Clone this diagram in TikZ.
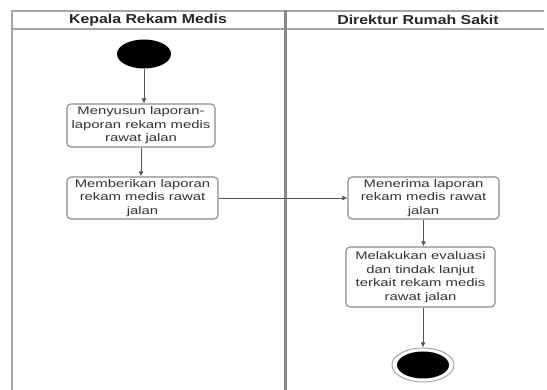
\documentclass[tikz,border=0pt]{standalone}
\usepackage{fontspec}
\setmainfont{Liberation Sans}
\newfontfamily\headfont[FakeStretch=1.22]{Liberation Sans}
\newfontfamily\actfont[FakeStretch=1.35]{Liberation Sans}
\usetikzlibrary{arrows.meta,shapes.geometric}
\definecolor{laneline}{HTML}{A4A4A4}
\definecolor{divline}{HTML}{888888}
\definecolor{boxline}{HTML}{8A8A8A}
\definecolor{flowline}{HTML}{555555}
\definecolor{txt}{HTML}{333333}
\tikzset{
  lane/.style={draw=laneline, line width=2pt},
  divider/.style={draw=divline, line width=2.4pt},
  header/.style={font=\headfont\bfseries\fontsize{13}{15}\selectfont, text=black!85},
  activity/.style={draw=boxline, line width=1.1pt, rounded corners=4pt, fill=white,
    align=center, text=txt, inner sep=0pt,
    font=\actfont\fontsize{11}{13.5}\selectfont},
  startnode/.style={ellipse, fill=black, minimum width=54pt, minimum height=29pt, inner sep=0pt},
  endinner/.style={ellipse, fill=black, minimum width=52pt, minimum height=27pt, inner sep=0pt},
  endouter/.style={ellipse, draw=laneline, line width=1pt, minimum width=62pt, minimum height=34pt, inner sep=0pt},
  flow/.style={draw=flowline, line width=0.9pt, -{Latex[length=5pt,width=5pt]}},
}
\begin{document}
\begin{tikzpicture}[x=1pt, y=-1pt]
  \useasboundingbox (0,0) rectangle (547,390);
  \fill[white] (0,0) rectangle (547,390);

  % swimlane frame
  \draw[lane] (12,11) -- (544,11);
  \draw[lane] (12,29) -- (544,29);
  \draw[lane] (12,10) -- (12,390);
  \draw[divider] (285.5,10) -- (285.5,390);

  % lane titles
  \node[header] (h1) at (148,20) {Kepala Rekam Medis};
  \node[header] (h2) at (418,20) {Direktur Rumah Sakit};

  % initial node
  \node[startnode] (start) at (144,54) {};

  % activities
  \node[activity, minimum width=148pt, minimum height=43pt] (a1) at (141,125.5)
    {Menyusun laporan-\\laporan rekam medis\\rawat jalan};
  \node[activity, minimum width=151pt, minimum height=42pt] (a2) at (142.5,198)
    {Memberikan laporan\\rekam medis rawat\\jalan};
  \node[activity, minimum width=151pt, minimum height=42pt] (a3) at (423.5,198)
    {Menerima laporan\\rekam medis rawat\\jalan};
  \node[activity, minimum width=149pt, minimum height=60pt] (a4) at (420.5,277)
    {Melakukan evaluasi\\dan tindak lanjut\\terkait rekam medis\\rawat jalan};

  % final node
  \node[endouter] (endo) at (423,365) {};
  \node[endinner] (end) at (423,365) {};

  % control flow
  \draw[flow] (start.south) -- (a1.north -| start.south);
  \draw[flow] (a1.south) -- (a2.north -| a1.south);
  \draw[flow] (a2.east) -- (a3.west);
  \draw[flow] (a3.south) -- (a4.north -| a3.south);
  \draw[flow] (a4.south -| endo.north) -- (endo.north);
\end{tikzpicture}
\end{document}
